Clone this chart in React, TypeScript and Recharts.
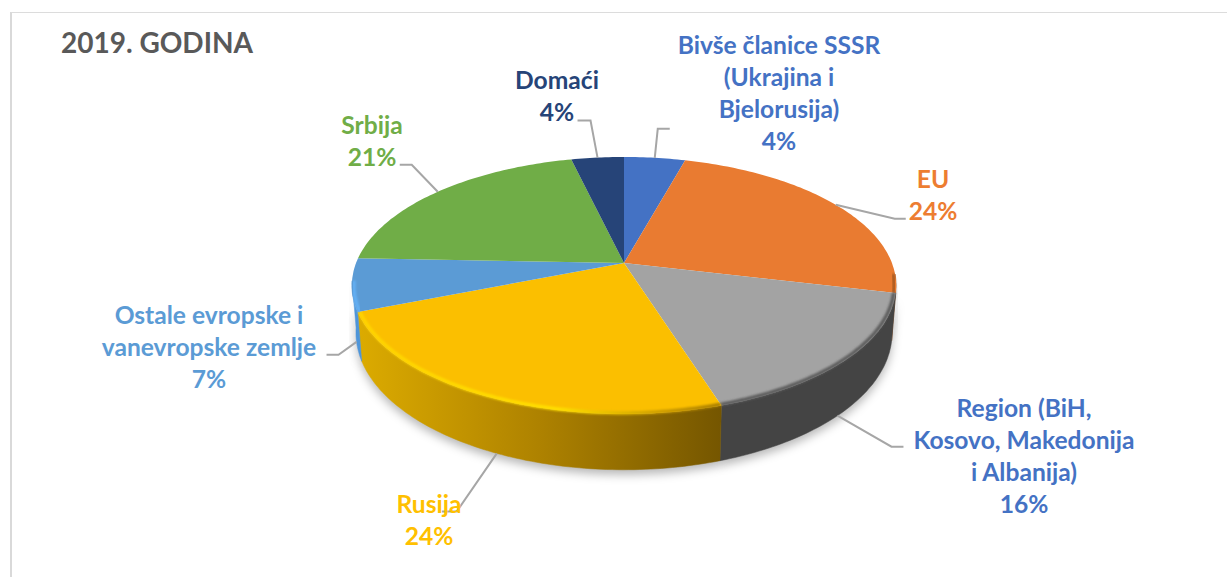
import React from "react";
import { PieChart, Pie } from "recharts";

const categories = [
  "Bivše članice SSSR (Ukrajina i Bjelorusija)",
  "EU",
  "Region (BiH, Kosovo, Makedonija i Albanija)",
  "Rusija",
  "Ostale evropske i vanevropske zemlje",
  "Srbija",
  "Domaći",
];
const shares = [4.3, 24.4, 16.4, 23.9, 6.6, 20.7, 3.7];
const topColors = ["#4472c4", "#e97b31", "#a3a3a3", "#fbbf00", "#5b9bd5", "#70ad47", "#264478"];
const wallColors = ["#2f5597", "#8a4a1a", "#444444", "url(#rusijaWall)", "#4e95d9", "#4c7a30", "#1a2f55"];
const rimColors = ["#4472c4", "#a85a20", "#5c5c5c", "url(#rusijaRim)", "#63b0f5", "#70ad47", "#264478"];
const labelColors = ["#4472c4", "#ed7d31", "#4472c4", "#ffc000", "#5b9bd5", "#70ad47", "#264478"];

// label text split in lines, as in the original
const labelLines = [
  ["Bivše članice SSSR", "(Ukrajina i", "Bjelorusija)"],
  ["EU"],
  ["Region (BiH,", "Kosovo, Makedonija", "i Albanija)"],
  ["Rusija"],
  ["Ostale evropske i", "vanevropske zemlje"],
  ["Srbija"],
  ["Domaći"],
];

const data = categories.map((name, i) => ({ name, value: shares[i] }));

// where each label sits, and how its leader line bends
const labelSpots = [
  { x: 779, y: 46, shift: 0, onWall: false, bend: [3, -29], end: [15, -29] },
  { x: 933, y: 180, shift: 0, onWall: false, bend: [59, 14], end: [70, 14] },
  { x: 1024, y: 409, shift: -2, onWall: true, bend: [54, 31], end: [66, 31] },
  { x: 429, y: 505, shift: 1.5, onWall: true, bend: [-40, 58], end: [-55, 58] },
  { x: 209, y: 316, shift: 4, onWall: true, bend: [-18, 13], end: [-30, 13] },
  { x: 372, y: 126, shift: 0, onWall: false, bend: [-26, -27], end: [-38, -27] },
  { x: 557, y: 81, shift: 0, onWall: false, bend: [-7, -37], end: [-20, -37] },
];

const CX = 624;
const CY = 263;
const RADIUS = 272;
const DEPTH = 46;
const LINE_HEIGHT = 32;
const FONT = "Lato, sans-serif";

// tilted disc with a bit of perspective: the far edge is nearer the centre than the front one
const project = (cx: number, cy: number, r: number, angle: number, drop = 0) => {
  const a = (angle * Math.PI) / 180;
  const w = 1 + 0.175 * Math.sin(a);
  const squeeze = drop ? 0.985 : 1;
  return {
    x: cx + (r * 0.985 * squeeze * Math.cos(a)) / w,
    y: cy - (r * 0.458 * Math.sin(a)) / w + drop / w,
  };
};

const arcPoints = (cx: number, cy: number, r: number, from: number, to: number, drop = 0) => {
  const pts = [];
  const steps = Math.max(2, Math.ceil(Math.abs(to - from)));
  for (let i = 0; i <= steps; i++) {
    const p = project(cx, cy, r, from + ((to - from) * i) / steps, drop);
    pts.push(`${p.x.toFixed(1)} ${p.y.toFixed(1)}`);
  }
  return pts;
};

const frontRange = (startAngle: number, endAngle: number) => {
  const from = Math.min(startAngle, -5);
  const to = Math.max(endAngle, -172);
  return from > to ? [from, to] : null;
};

const wallPath = (props: any) => {
  const range = frontRange(props.startAngle, props.endAngle);
  if (!range) return null;
  const { cx, cy, outerRadius: r } = props;
  const upper = arcPoints(cx, cy, r, range[0], range[1]);
  const lower = arcPoints(cx, cy, r, range[1], range[0], DEPTH);
  return "M" + upper.join("L") + "L" + lower.join("L") + "Z";
};

const ShadowShape = (props: any) => {
  const d = wallPath(props);
  if (!d) return <g />;
  return <path d={d} fill="#000" fillOpacity={0.28} filter="url(#softShadow)" transform="translate(0 5)" />;
};

const WallShape = (props: any) => {
  const d = wallPath(props);
  if (!d) return <g />;
  return <path d={d} fill={wallColors[props.index]} stroke={wallColors[props.index]} strokeWidth={0.5} />;
};

const TopShape = (props: any) => {
  const { cx, cy, outerRadius: r, startAngle, endAngle, index } = props;
  const rim = frontRange(startAngle, endAngle);
  const d = `M${cx} ${cy}L` + arcPoints(cx, cy, r, startAngle, endAngle).join("L") + "Z";
  return (
    <g>
      <path d={d} fill={topColors[index]} />
      {rim && (
        <path
          d={"M" + arcPoints(cx, cy, r - 2, rim[0], rim[1]).join("L")}
          fill="none"
          stroke={rimColors[index]}
          strokeWidth={3.5}
          filter="url(#rimBlur)"
        />
      )}
    </g>
  );
};

const renderLabel = (props: any) => {
  const { cx, cy, outerRadius: r, midAngle, index } = props;
  const spot = labelSpots[index];
  const anchor = project(cx, cy, r, midAngle + spot.shift, spot.onWall ? DEPTH : 0);
  const bend = { x: anchor.x + spot.bend[0], y: anchor.y + spot.bend[1] };
  const end = { x: anchor.x + spot.end[0], y: anchor.y + spot.end[1] };
  const lines = [...labelLines[index], `${Math.round(shares[index])}%`];
  return (
    <g>
      <polyline
        points={`${anchor.x},${anchor.y} ${bend.x},${bend.y} ${end.x},${end.y}`}
        fill="none"
        stroke="#a6a6a6"
        strokeWidth={2}
      />
      <text
        textAnchor="middle"
        fontFamily={FONT}
        fontWeight={700}
        fontSize={24.6}
        fill={labelColors[index]}
      >
        {lines.map((line, i) => (
          <tspan key={i} x={spot.x} y={spot.y + 8 + i * LINE_HEIGHT}>
            {line}
          </tspan>
        ))}
      </text>
    </g>
  );
};

export default function App() {
  return (
    <div style={{ position: "absolute", left: 0, top: 0, width: 1227, height: 577, background: "#fff", overflow: "hidden" }}>
      <div
        style={{
          position: "absolute",
          left: 10,
          top: 12,
          right: 0,
          bottom: 0,
          borderTop: "1px solid #dcdcdc",
          borderLeft: "2px solid #d9d9d9",
        }}
      />
      <PieChart width={1227} height={577} margin={{ top: 0, right: 0, bottom: 0, left: 0 }} style={{ position: "absolute", left: 0, top: 0 }}>
        <defs>
          <linearGradient id="rusijaWall" x1="0" y1="0" x2="1" y2="0">
            <stop offset="0%" stopColor="#dcab00" />
            <stop offset="50%" stopColor="#ae8200" />
            <stop offset="100%" stopColor="#755600" />
          </linearGradient>
          <linearGradient id="rusijaRim" x1="0" y1="0" x2="1" y2="0">
            <stop offset="0%" stopColor="#ffd400" />
            <stop offset="55%" stopColor="#ffe000" />
            <stop offset="85%" stopColor="#c89800" />
            <stop offset="100%" stopColor="#a67c00" />
          </linearGradient>
          <filter id="softShadow" x="-20%" y="-20%" width="140%" height="160%">
            <feGaussianBlur stdDeviation="5" />
          </filter>
          <filter id="rimBlur" x="-5%" y="-20%" width="110%" height="140%">
            <feGaussianBlur stdDeviation="1.2" />
          </filter>
        </defs>
        <Pie
          data={data}
          dataKey="value"
          nameKey="name"
          cx={CX}
          cy={CY}
          innerRadius={0}
          outerRadius={RADIUS}
          startAngle={90}
          endAngle={-270}
          stroke="none"
          shape={ShadowShape}
          inactiveShape={ShadowShape}
          isAnimationActive={false}
        />
        <Pie
          data={data}
          dataKey="value"
          nameKey="name"
          cx={CX}
          cy={CY}
          innerRadius={0}
          outerRadius={RADIUS}
          startAngle={90}
          endAngle={-270}
          stroke="none"
          shape={WallShape}
          inactiveShape={WallShape}
          isAnimationActive={false}
        />
        <Pie
          data={data}
          dataKey="value"
          nameKey="name"
          cx={CX}
          cy={CY}
          innerRadius={0}
          outerRadius={RADIUS}
          startAngle={90}
          endAngle={-270}
          stroke="none"
          shape={TopShape}
          inactiveShape={TopShape}
          label={renderLabel}
          labelLine={false}
          isAnimationActive={false}
        />
        <text x={61} y={53} fontFamily={FONT} fontWeight={700} fontSize={28} fill="#595959">
          2019. GODINA
        </text>
      </PieChart>
    </div>
  );
}
